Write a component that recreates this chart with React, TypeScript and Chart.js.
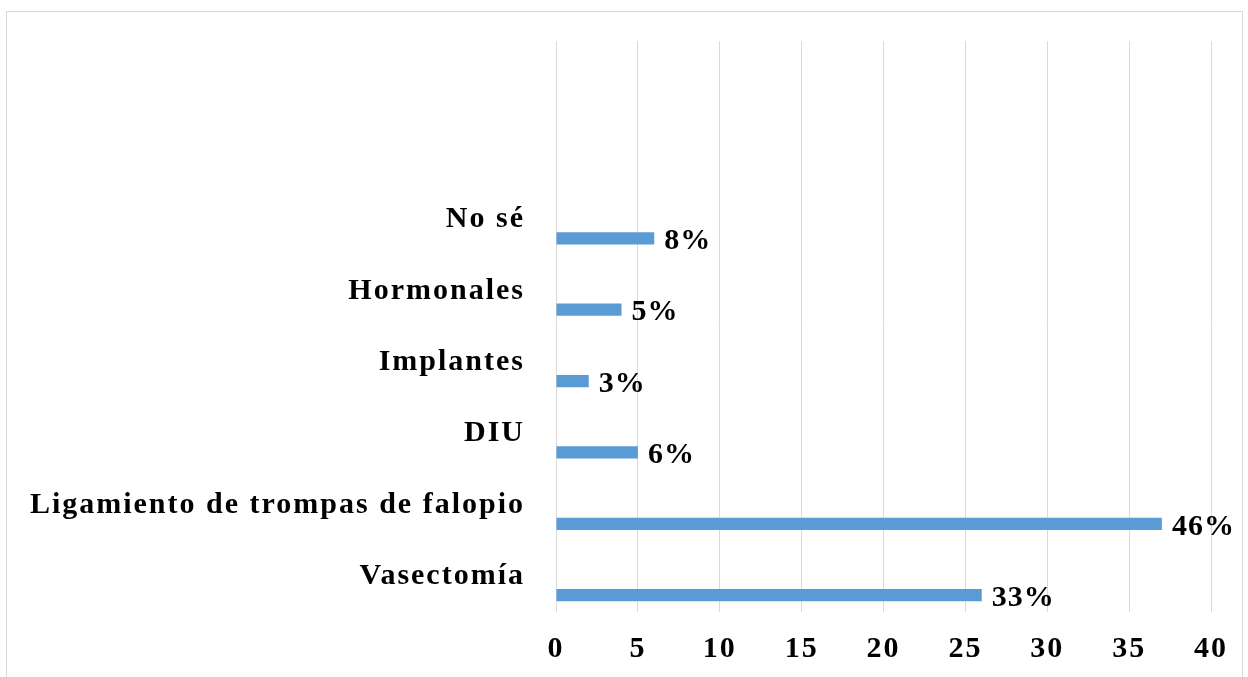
import React, { useEffect, useRef } from "react";
import { Chart, registerables } from "chart.js";

Chart.register(...registerables);

// Display order, top to bottom
const categories = [
  "No sé",
  "Hormonales",
  "Implantes",
  "DIU",
  "Ligamiento de trompas de falopio",
  "Vasectomía",
];
const values = [6, 4, 2, 5, 37, 26];
const percentLabels = ["8%", "5%", "3%", "6%", "46%", "33%"];
const emptySlots = ["", ""];
const xMin = 0;
const xMax = 40;
const xStep = 5;

const FONT_FAMILY = "'Liberation Serif', 'Times New Roman', serif";
const BAR_COLOR = "#5B9BD5";
const GRID_COLOR = "#d9d9d9";

export default function App() {
  const canvasRef = useRef<HTMLCanvasElement | null>(null);

  useEffect(() => {
    const canvas = canvasRef.current;
    if (!canvas) return;

    const labels = [...emptySlots, ...categories];
    const dataValues = [...emptySlots.map(() => null), ...values];
    const blank = labels.map(() => null);

    const dataLabelPlugin = {
      id: "pctLabels",
      beforeDraw(chart: any) {
        (chart.ctx as any).letterSpacing = "2px";
      },
      afterDatasetsDraw(chart: any) {
        const ctx = chart.ctx;
        const meta = chart.getDatasetMeta(2);
        ctx.save();
        (ctx as any).letterSpacing = "1px";
        ctx.font = `bold 30px ${FONT_FAMILY}`;
        ctx.fillStyle = "#000";
        ctx.textAlign = "left";
        ctx.textBaseline = "middle";
        meta.data.forEach((bar: any, i: number) => {
          const idx = i - emptySlots.length;
          if (idx < 0) return;
          ctx.fillText(percentLabels[idx], bar.x + 10, bar.y + 3);
        });
        ctx.restore();
      },
    };

    const chart = new Chart(canvas, {
      type: "bar",
      data: {
        labels,
        datasets: [
          { data: blank, backgroundColor: BAR_COLOR },
          { data: blank, backgroundColor: BAR_COLOR },
          { data: dataValues as any, backgroundColor: BAR_COLOR },
        ],
      },
      options: {
        indexAxis: "y",
        responsive: false,
        animation: false,
        categoryPercentage: 0.795,
        barPercentage: 0.65,
        layout: { padding: { left: 0, right: 37, top: 38, bottom: 0 } },
        plugins: {
          legend: { display: false },
          tooltip: { enabled: false },
        },
        scales: {
          x: {
            type: "linear",
            min: xMin,
            max: xMax,
            ticks: {
              stepSize: xStep,
              padding: 19,
              color: "#000",
              font: { family: FONT_FAMILY, size: 30, weight: "bold" },
            },
            grid: { color: GRID_COLOR, drawTicks: false, lineWidth: 1 },
            border: { display: false },
            afterFit: (s: any) => {
              s.height = 65;
            },
          },
          y: {
            type: "category",
            grid: { display: false },
            border: { display: false },
            ticks: {
              padding: 23,
              color: "#000",
              autoSkip: false,
              font: { family: FONT_FAMILY, size: 30, weight: "bold" },
            },
            afterFit: (s: any) => {
              s.width = 556;
            },
          },
        },
      } as any,
      plugins: [dataLabelPlugin],
    });

    return () => chart.destroy();
  }, []);

  return (
    <div
      style={{
        position: "fixed",
        left: 0,
        top: 0,
        width: 1248,
        height: 677,
        background: "#fff",
        overflow: "hidden",
      }}
    >
      <div
        style={{
          position: "absolute",
          left: 6,
          top: 11,
          width: 1235,
          height: 700,
          border: "1px solid #d9d9d9",
        }}
      />
      <canvas
        ref={canvasRef}
        width={1248}
        height={677}
        style={{ position: "absolute", left: 0, top: 0 }}
      />
    </div>
  );
}
